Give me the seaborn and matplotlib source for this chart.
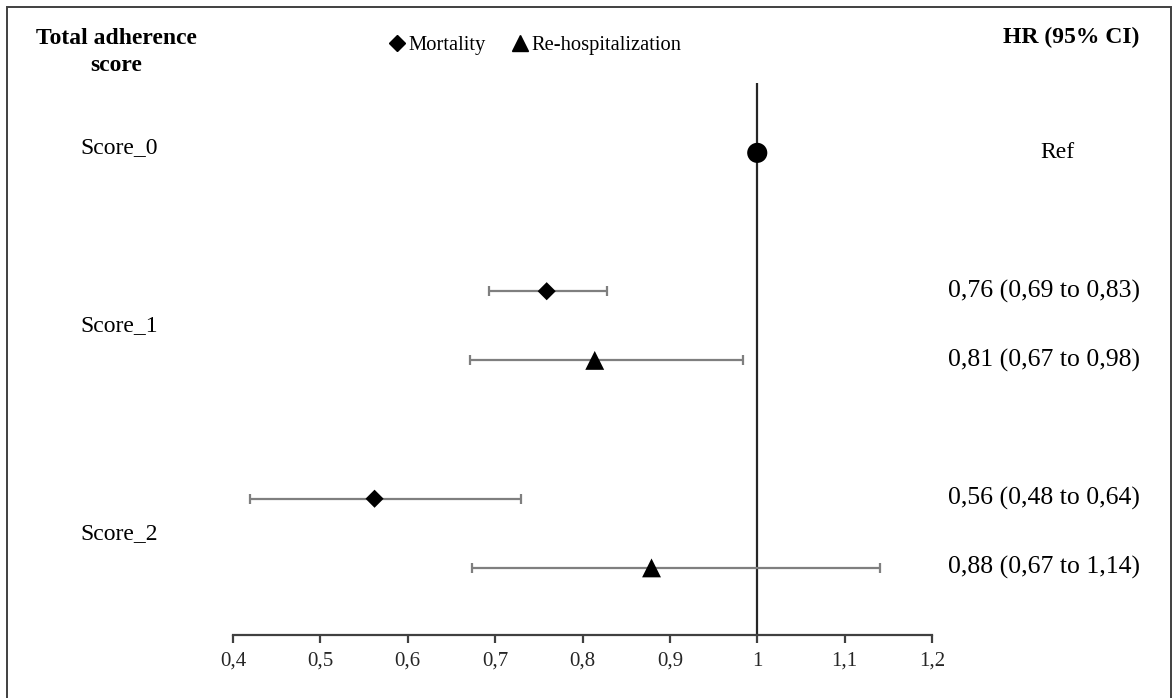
import matplotlib.pyplot as plt
import matplotlib.ticker as mticker
import numpy as np
import pandas as pd
import seaborn as sns
from matplotlib.lines import Line2D
from matplotlib.patches import Rectangle
from matplotlib.transforms import blended_transform_factory

# values
groups = ['Score_0', 'Score_1', 'Score_1', 'Score_2', 'Score_2']
outcomes = ['Ref', 'Mortality', 'Re-hospitalization', 'Mortality', 'Re-hospitalization']
hr = [1.0, 0.759, 0.814, 0.562, 0.879]
ci_low = [np.nan, 0.693, 0.671, 0.420, 0.673]
ci_high = [np.nan, 0.828, 0.984, 0.730, 1.141]
hr_labels = ['Ref', '0,76 (0,69 to 0,83)', '0,81 (0,67 to 0,98)',
             '0,56 (0,48 to 0,64)', '0,88 (0,67 to 1,14)']
x_ticks = [0.4, 0.5, 0.6, 0.7, 0.8, 0.9, 1.0, 1.1, 1.2]

W, H = 1175, 698


def fx(px):
    return px / W


def fy(py):
    return 1 - py / H


def row_positions(groups, outcomes):
    order = {g: i for i, g in enumerate(dict.fromkeys(groups))}
    pos = []
    for g, o in zip(groups, outcomes):
        gi = order[g]
        if gi == 0:
            pos.append(0.0)
        else:
            pos.append(3 * gi - 1 + (1 if o == 'Re-hospitalization' else 0))
    return pos


df = pd.DataFrame({'group': groups, 'outcome': outcomes, 'hr': hr,
                   'lo': ci_low, 'hi': ci_high, 'label': hr_labels})
df['pos'] = row_positions(groups, outcomes)

sns.set_theme(style='white')
plt.rcParams['font.family'] = ['Liberation Serif', 'DejaVu Serif']
plt.rcParams['text.color'] = 'black'

fig = plt.figure(figsize=(W / 100, H / 100), dpi=100)
ax = fig.add_axes([fx(233), fy(635), fx(932) - fx(233), fy(83) - fy(635)])

ci = df.dropna(subset=['lo'])
ax.errorbar(ci['hr'], ci['pos'], xerr=[ci['hr'] - ci['lo'], ci['hi'] - ci['hr']],
            fmt='none', ecolor='#7f7f7f', elinewidth=1.6, capsize=3.5, capthick=1.6, zorder=2)

ax.axvline(1.0, color='#262626', lw=1.6, zorder=1)

markers = {'Ref': 'o', 'Mortality': 'D', 'Re-hospitalization': '^'}
sizes = {'Ref': 210, 'Mortality': 85, 'Re-hospitalization': 185}
sns.scatterplot(data=df, x='hr', y='pos', style='outcome', markers=markers,
                size='outcome', sizes=sizes, color='black', edgecolor='black',
                linewidth=0, legend=False, ax=ax, zorder=3)

ax.set_xlim(0.4, 1.2)
ax.set_ylim(6.97, -1.01)
ax.set_xticks(x_ticks)
ax.xaxis.set_major_formatter(mticker.FuncFormatter(lambda v, p: f'{v:g}'.replace('.', ',')))
ax.set_yticks([])
ax.set_xlabel('')
ax.set_ylabel('')
for s in ['top', 'left', 'right']:
    ax.spines[s].set_visible(False)
ax.spines['bottom'].set_color('#404040')
ax.spines['bottom'].set_linewidth(1.6)
ax.tick_params(axis='x', direction='out', length=6, width=1.6, color='#404040',
               labelsize=15, pad=6, bottom=True)

# left group labels and right HR text
tr = blended_transform_factory(fig.transFigure, ax.transData)
for g, sub in df.groupby('group'):
    ax.text(fx(80), sub['pos'].mean() - (0.07 if len(sub) == 1 else 0), g,
            transform=tr, ha='left', va='center', fontsize=17)
for _, r in df.iterrows():
    if r['outcome'] == 'Ref':
        ax.text(fx(1057), r['pos'], r['label'], transform=tr,
                ha='center', va='center', fontsize=17)
    else:
        ax.text(fx(948), r['pos'], r['label'], transform=tr,
                ha='left', va='center', fontsize=18.5)

fig.text(fx(116), fy(52), 'Total adherence\nscore', ha='center', va='center',
         fontsize=17, fontweight='bold', linespacing=1.4)
fig.text(fx(1071), fy(37), 'HR (95% CI)', ha='center', va='center',
         fontsize=17, fontweight='bold')

handles = [Line2D([], [], ls='none', marker='D', ms=8, color='black'),
           Line2D([], [], ls='none', marker='^', ms=11, color='black')]
fig.legend(handles, ['Mortality', 'Re-hospitalization'], ncol=2, frameon=False,
           loc='center', bbox_to_anchor=(fx(534), fy(45)), fontsize=14.8,
           handletextpad=0.05, columnspacing=1.2, handlelength=1.0)

fig.patches.append(Rectangle((fx(7), fy(700)), fx(1171) - fx(7), fy(7) - fy(700),
                             transform=fig.transFigure, fill=False,
                             edgecolor='#404040', lw=1.4))

fig.savefig('out.png', dpi=100)
